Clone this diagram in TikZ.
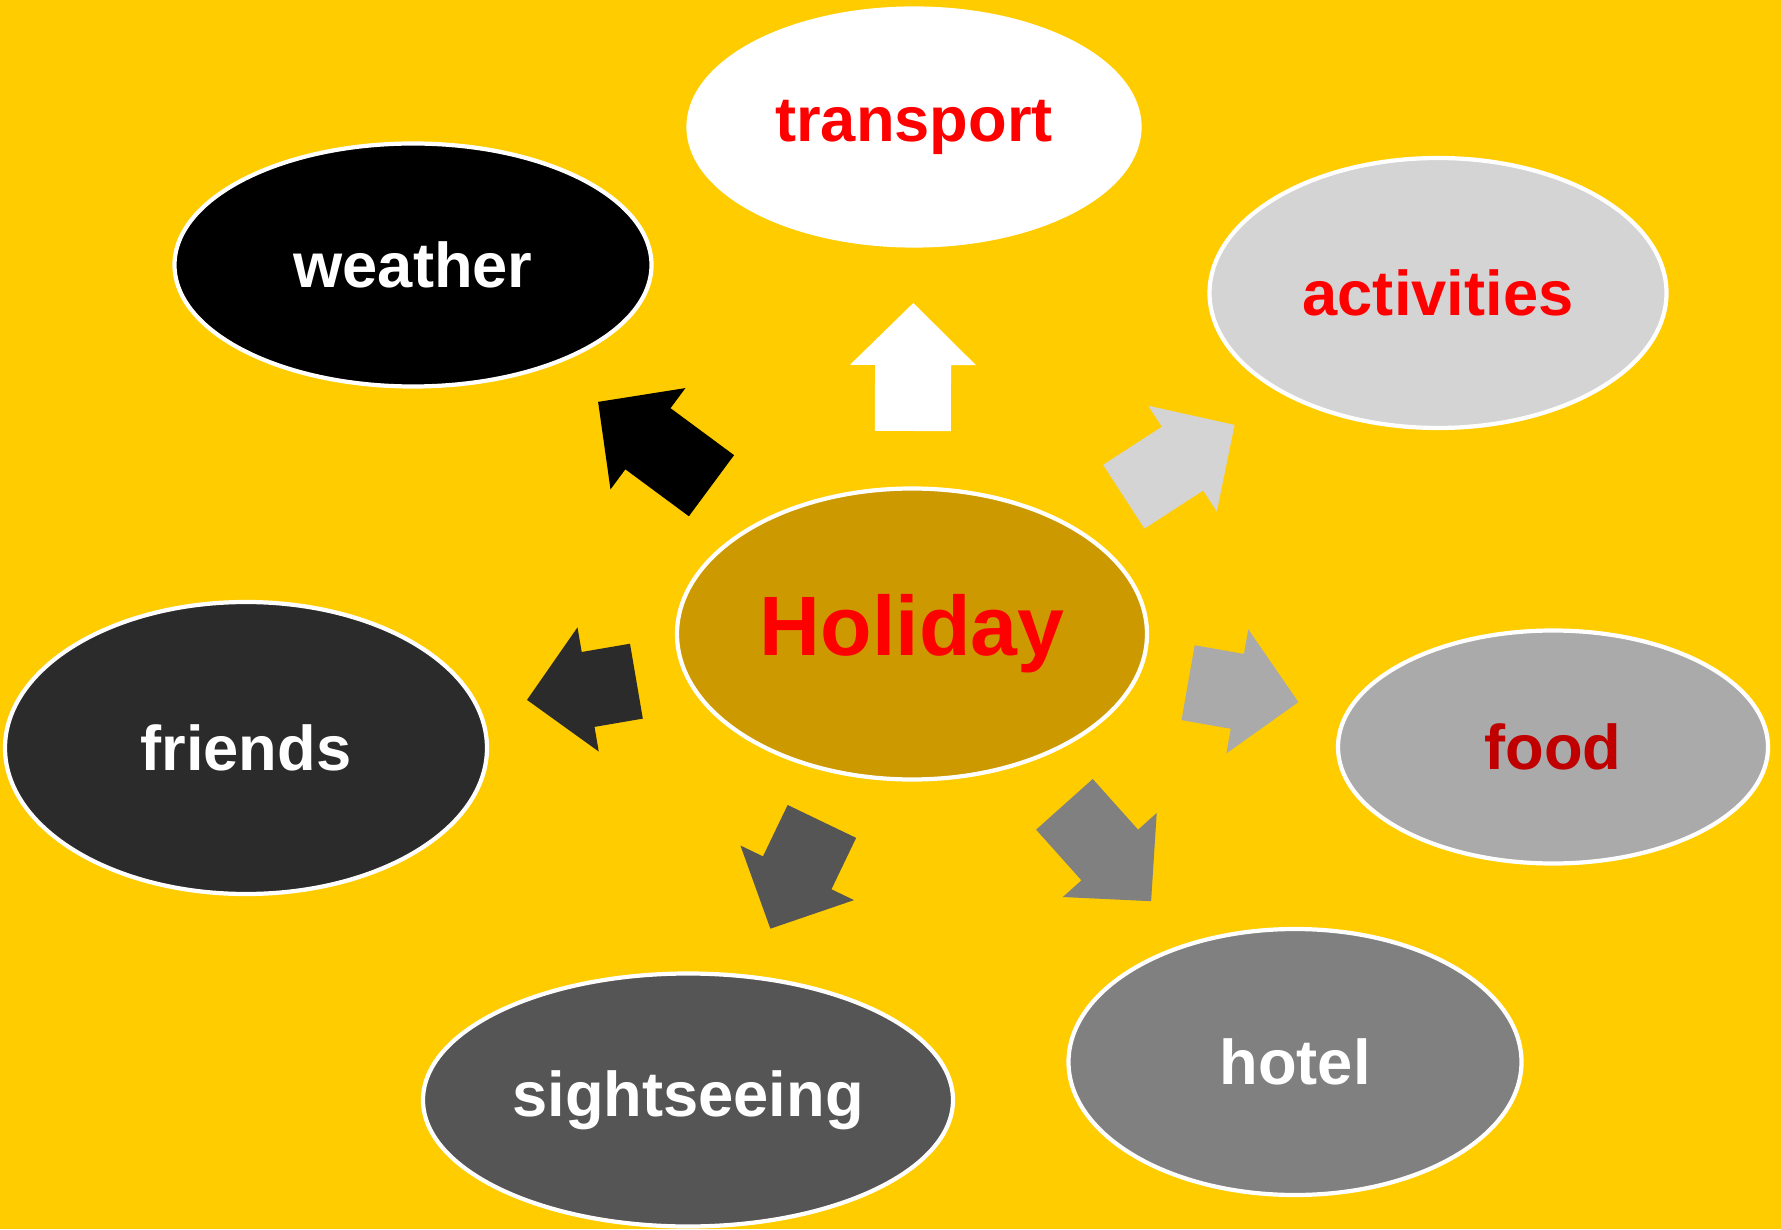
\documentclass[tikz,border=0pt]{standalone}
\usepackage{fontspec}
\setmainfont{Liberation Sans}
\usetikzlibrary{positioning}
\usetikzlibrary{shapes.geometric}
\definecolor{bgyellow}{HTML}{FFCC00}
\definecolor{holgold}{HTML}{CC9900}
\definecolor{actgray}{HTML}{D4D4D4}
\definecolor{frgray}{HTML}{2B2B2B}
\definecolor{foodgray}{HTML}{AAAAAA}
\definecolor{sightgray}{HTML}{555555}
\definecolor{hotgray}{HTML}{808080}
\definecolor{darkred}{HTML}{C00000}

\begin{document}
\begin{tikzpicture}[
 bubble/.style={ellipse,draw=white,line width=1.2pt,inner sep=0pt,font=\bfseries\fontsize{18}{20}\selectfont},
 spoke/.pic={\fill[pic actions](-#1/2,-0.38)--(#1/2-0.62,-0.38)--(#1/2-0.62,-0.63)--(#1/2,0)--(#1/2-0.62,0.63)--(#1/2-0.62,0.38)--(-#1/2,0.38)--cycle;},
 onpath/.style={pos=0.5,sloped,allow upside down}]
 \fill[bgyellow](0,0) rectangle (17.81,12.29);
 \node[bubble,fill=holgold,text=red,minimum width=4.70cm,minimum height=2.91cm,font=\bfseries\fontsize{24}{28}\selectfont] (hol) at (9.12,5.95) {Holiday};
 \node[bubble,fill=white,text=red,minimum width=4.51cm,minimum height=2.37cm] (transport) at (9.14,11.02) {transport};
 \node[bubble,fill=black,text=white,minimum width=4.77cm,minimum height=2.43cm] (weather) at (4.13,9.64) {weather};
 \node[bubble,fill=actgray,text=red,minimum width=4.57cm,minimum height=2.70cm] (activities) at (14.38,9.36) {activities};
 \node[bubble,fill=frgray,text=white,minimum width=4.82cm,minimum height=2.92cm] (friends) at (2.46,4.81) {friends};
 \node[bubble,fill=foodgray,text=darkred,minimum width=4.30cm,minimum height=2.33cm] (food) at (15.53,4.82) {food};
 \node[bubble,fill=sightgray,text=white,minimum width=5.30cm,minimum height=2.53cm] (sight) at (6.88,1.29) {sightseeing};
 \node[bubble,fill=hotgray,text=white,minimum width=4.53cm,minimum height=2.66cm] (hotel) at (12.95,1.67) {hotel};
 \path (hol) -- (transport) pic[onpath,fill=white] {spoke=1.28};
 \path (hol) -- (weather) pic[onpath,fill=black] {spoke=1.41};
 \path (hol) -- (activities) pic[onpath,fill=actgray] {spoke=1.32};
 \path (hol) -- (friends) pic[onpath,fill=frgray] {spoke=1.11};
 \path (hol) -- (food) pic[onpath,fill=foodgray] {spoke=1.12};
 \path (hol) -- (sight) pic[onpath,fill=sightgray] {spoke=1.19};
 \path (hol) -- (hotel) pic[onpath,fill=hotgray] {spoke=1.30};
\end{tikzpicture}
\end{document}
